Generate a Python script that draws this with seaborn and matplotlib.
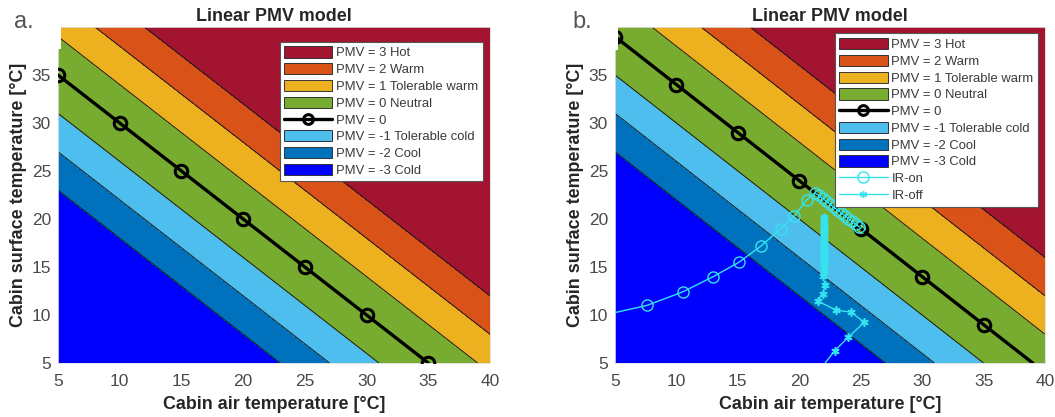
import numpy as np
import matplotlib
matplotlib.use("Agg")
import matplotlib.pyplot as plt
import seaborn as sns
from matplotlib.patches import Patch, Rectangle
from matplotlib.lines import Line2D

# PMV classes, hot -> cold (legend order)
band_labels = ["PMV = 3 Hot", "PMV = 2 Warm", "PMV = 1 Tolerable warm", "PMV = 0 Neutral",
               "PMV = -1 Tolerable cold", "PMV = -2 Cool", "PMV = -3 Cold"]
band_colors = ["#a2142f", "#d95319", "#edb120", "#77ac30", "#4dbeee", "#0072bd", "#0000ff"]

# class boundaries as (air + surface) temperature sums, cold -> hot
edges_a = [28, 32, 36, 44, 48, 52]
edges_b = [32, 36, 40, 48, 52, 56]

# PMV = 0 lines
pmv0_air_a = [5, 10, 15, 20, 25, 30, 35]
pmv0_surf_a = [35, 30, 25, 20, 15, 10, 5]
pmv0_air_b = [5, 10, 15, 20, 25, 30, 35, 39]
pmv0_surf_b = [39, 34, 29, 24, 19, 14, 9, 5]

# measured trajectories (panel b)
ir_on_air = [5.0, 7.6, 10.5, 13.0, 15.1, 16.9, 18.5, 19.6, 20.6, 21.3,
             21.6, 21.9, 22.2, 22.5, 22.8, 23.1, 23.4, 23.7, 24.0, 24.3, 24.6, 24.9]
ir_on_surf = [10.25, 11.0, 12.4, 14.0, 15.5, 17.2, 19.0, 20.3, 22.0, 22.7,
              22.45, 22.15, 21.85, 21.55, 21.25, 20.95, 20.65, 20.35, 20.05, 19.75, 19.45, 19.15]
ir_off_air = [22.1, 22.9, 24.0, 25.3, 24.2, 23.0, 21.5, 21.9, 22.1, 21.9,
              22.0, 22.05, 22.0, 22.05, 22.0, 22.05, 22.0, 22.05, 22.0, 22.05, 22.0,
              22.05, 22.0, 22.05, 22.0, 22.05, 22.0, 22.05, 22.0, 22.05, 22.0, 22.05]
ir_off_surf = [5.0, 6.3, 7.7, 9.25, 10.3, 10.5, 11.45, 12.15, 13.1, 14.1,
               14.6, 14.9, 15.2, 15.4, 15.7, 16.0, 16.2, 16.5, 16.8, 17.0, 17.3,
               17.6, 17.8, 18.1, 18.4, 18.6, 18.9, 19.2, 19.4, 19.7, 20.0, 20.2]

x_ticks = [5, 10, 15, 20, 25, 30, 35, 40]
y_ticks = [5, 10, 15, 20, 25, 30, 35]

sns.set_theme(style="white")
plt.rcParams["font.family"] = ["Liberation Sans", "DejaVu Sans"]

cyan = "#35e3ef"
fig = plt.figure(figsize=(10.55, 4.17), dpi=100)
ax_a = fig.add_axes([58 / 1055, 54 / 417, 432 / 1055, 336 / 417])
ax_b = fig.add_axes([615 / 1055, 54 / 417, 430 / 1055, 336 / 417])

grid = np.linspace(5, 40, 351)
AIR, SURF = np.meshgrid(grid, grid)


def draw_panel(ax, edges, air0, surf0):
    levels = [0] + edges + [100]
    ax.contourf(AIR, SURF, AIR + SURF, levels=levels, colors=band_colors[::-1])
    ax.contour(AIR, SURF, AIR + SURF, levels=edges, colors="#1a1a1a", linewidths=0.7)
    sns.lineplot(x=air0, y=surf0, ax=ax, sort=False, estimator=None, color="black",
                 linewidth=2.4, marker="o", markersize=9, markerfacecolor="none",
                 markeredgecolor="black", markeredgewidth=2.2,
                 markevery=list(range(min(len(air0), 7))), zorder=5)
    ax.set_xlim(5, 40)
    ax.set_ylim(5, 40)
    ax.set_xticks(x_ticks)
    ax.set_yticks(y_ticks)
    ax.tick_params(labelsize=12.5, colors="#4a4a4a", length=0)
    ax.tick_params(axis="x", pad=8)
    ax.tick_params(axis="y", pad=5)
    ax.set_title("Linear PMV model", fontsize=12.9, fontweight="bold", pad=4)
    ax.set_xlabel("Cabin air temperature [°C]", fontsize=12.9, fontweight="bold", labelpad=5)
    ax.set_ylabel("Cabin surface temperature [°C]", fontsize=12.9, fontweight="bold", labelpad=3)
    for sp in ax.spines.values():
        sp.set_color("#dddddd")
        sp.set_linewidth(0.6)


def legend_handles(with_ir):
    h = [Patch(facecolor=c, edgecolor="#333333", linewidth=0.7, label=l)
         for c, l in zip(band_colors, band_labels)]
    h.insert(4, Line2D([], [], color="black", linewidth=2.4, marker="o", markersize=7,
                       markerfacecolor="none", markeredgewidth=2.2, label="PMV = 0"))
    if with_ir:
        h.append(Line2D([], [], color=cyan, linewidth=1.0, marker="o", markersize=8,
                        markerfacecolor="none", label="IR-on"))
        h.append(Line2D([], [], color=cyan, linewidth=1.0, marker=(6, 2, 0), markersize=5,
                        label="IR-off"))
    return h


draw_panel(ax_a, edges_a, pmv0_air_a, pmv0_surf_a)
draw_panel(ax_b, edges_b, pmv0_air_b, pmv0_surf_b)

sns.lineplot(x=ir_on_air, y=ir_on_surf, ax=ax_b, sort=False, estimator=None, color=cyan,
             linewidth=1.0, marker="o", markersize=8, markerfacecolor="none",
             markeredgecolor=cyan, markeredgewidth=1.0,
             markevery=list(range(1, len(ir_on_air))), zorder=6)
sns.lineplot(x=ir_off_air, y=ir_off_surf, ax=ax_b, sort=False, estimator=None, color=cyan,
             linewidth=1.0, marker=(6, 2, 0), markersize=6, markeredgecolor=cyan,
             markeredgewidth=1.2, markevery=list(range(1, len(ir_off_air))), zorder=6)

leg_kw = dict(loc="upper right", fontsize=9.4, frameon=True, fancybox=False, framealpha=1,
              edgecolor="#555555", borderaxespad=0, handlelength=3.7, handleheight=0.95,
              handletextpad=0.3, labelspacing=0.28, borderpad=0.35)
for ax, with_ir, anchor in [(ax_a, False, (0.984, 0.956)), (ax_b, True, (0.984, 0.981))]:
    leg = ax.legend(handles=legend_handles(with_ir), bbox_to_anchor=anchor, **leg_kw)
    leg.get_frame().set_linewidth(0.8)
    for t in leg.get_texts():
        t.set_color("#3a3a3a")
    leg.set_zorder(10)

# white label boxes covering the top-left corners, as in the source figure
fig.add_artist(Rectangle((0, 1 - 49 / 417), 61 / 1055, 49 / 417, transform=fig.transFigure,
                         facecolor="white", edgecolor="none", zorder=20))
fig.add_artist(Rectangle((560 / 1055, 1 - 50 / 417), 58 / 1055, 50 / 417, transform=fig.transFigure,
                         facecolor="white", edgecolor="none", zorder=20))
fig.text(14 / 1055, 1 - 28 / 417, "a.", fontsize=17, color="#555555", va="baseline", zorder=21)
fig.text(572 / 1055, 1 - 28 / 417, "b.", fontsize=17, color="#555555", va="baseline", zorder=21)

fig.savefig("out.png", dpi=100)
